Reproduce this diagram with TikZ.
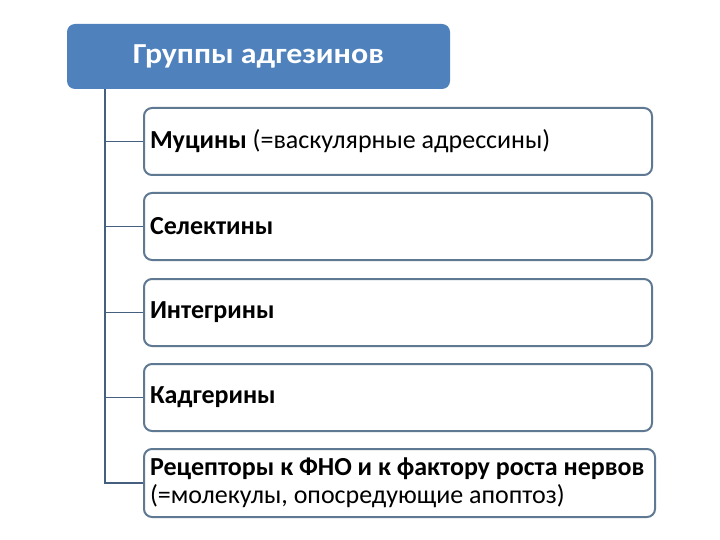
\documentclass[tikz,border=0pt]{standalone}
\usepackage{fontspec}
\setmainfont{Carlito}
\newfontfamily\hdrfont[FakeStretch=1.1]{Carlito}
\definecolor{hdr}{HTML}{4F81BD}
\definecolor{edge}{HTML}{5F7993}
\definecolor{trunkc}{HTML}{44607E}
\tikzset{
  header/.style={draw=none, fill=hdr, rounded corners=8pt, minimum width=383pt, minimum height=65pt,
    text=white, font=\hdrfont\fontsize{29}{32}\selectfont\bfseries, inner sep=0pt},
  itembox/.style={draw=edge, line width=2pt, fill=white, rounded corners=8pt, minimum width=507pt,
    minimum height=67pt, anchor=west, align=flush left, text width=496pt, inner sep=0pt, inner xsep=6pt,
    font=\fontsize{26}{28}\selectfont, text=black},
  link/.style={draw=trunkc, line width=1.8pt}
}
\begin{document}
\begin{tikzpicture}[x=1pt,y=-1pt]
\useasboundingbox (0,0) rectangle (720,540);
\node[header] (h) at (258.5,56.5) {Группы адгезинов};
\node[itembox] (b1) at (143,141.5) {\textbf{Муцины} (=васкулярные адрессины)};
\node[itembox] (b2) at (143,226.5) {\textbf{Селектины}};
\node[itembox] (b3) at (143,312.5) {\textbf{Интегрины}};
\node[itembox] (b4) at (143,397.5) {\textbf{Кадгерины}};
\node[itembox, minimum height=68pt, text width=499pt] (b5) at (143,483) {\textbf{Рецепторы к ФНО и к фактору роста нервов}\\(=молекулы, опосредующие апоптоз)};
\coordinate (t) at (105,0);
\draw[link] (t |- h.south) -- (t |- b5.west) -- (b5.west);
\foreach \b in {b1,b2,b3,b4}{
  \draw[link] (t |- \b.west) -- (\b.west);
}
\end{tikzpicture}
\end{document}
